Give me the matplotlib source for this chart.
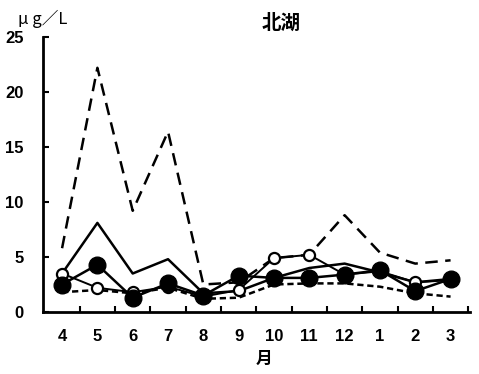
import matplotlib.pyplot as plt
import numpy as np

months = ["4", "5", "6", "7", "8", "9", "10", "11", "12", "1", "2", "3"]

# five series (ug/L)
long_dash = [5.8, 22.2, 9.2, 16.4, 2.5, 2.7, 4.9, 5.2, 8.8, 5.4, 4.4, 4.7]
solid_thin = [3.5, 8.1, 3.5, 4.8, 1.7, 1.9, 3.1, 4.0, 4.4, 3.6, 2.7, 3.0]
filled = [2.5, 4.3, 1.3, 2.6, 1.5, 3.3, 3.1, 3.1, 3.4, 3.8, 1.9, 3.0]
open_pts = [3.5, 2.2, 1.8, 2.3, 1.4, 2.0, 4.9, 5.2, 3.4, 3.7, 2.7, 2.9]
short_dash = [1.8, 2.0, 1.7, 2.2, 1.2, 1.3, 2.5, 2.6, 2.6, 2.3, 1.7, 1.4]

jp = ["Noto Sans CJK JP", "DejaVu Sans"]
num_font = "Liberation Sans"

fig = plt.figure(figsize=(4.79, 3.74), dpi=100)
ax = fig.add_axes([43 / 479, 1 - 312 / 374, 427 / 479, 275 / 374])

x = np.arange(len(months))
ax.plot(x, long_dash, color="black", lw=1.8, dashes=(5, 3))
ax.plot(x, short_dash, color="black", lw=1.8, dashes=(2.5, 1.5))
ax.plot(x, solid_thin, color="black", lw=1.8)
ax.plot(x, open_pts, color="black", lw=1.4, marker="o", ms=8,
        mfc="white", mec="black", mew=1.6)
ax.plot(x, filled, color="black", lw=1.8, marker="o", ms=12,
        mfc="black", mec="black")

ax.set_xlim(-0.54, 11.55)
ax.set_ylim(0, 25)
ax.set_yticks(range(0, 26, 5))
ax.set_xticks(x)
ax.set_xticklabels(months)
ax.set_xticks(np.arange(0.5, 12, 1), minor=True)

for s in ["top", "right"]:
    ax.spines[s].set_visible(False)
for s in ["left", "bottom"]:
    ax.spines[s].set_linewidth(2)

ax.tick_params(axis="x", which="major", length=0, pad=12)
ax.tick_params(axis="x", which="minor", direction="in", length=4, width=1.5)
ax.tick_params(axis="y", direction="in", length=4, width=1.5, pad=14)
for lab in ax.get_xticklabels() + ax.get_yticklabels():
    lab.set_fontfamily(num_font)
    lab.set_fontweight("bold")
    lab.set_fontsize(12)

fig.text(281 / 479, 1 - 23 / 374, "北湖", family=jp, fontsize=14,
         fontweight="bold", ha="center", va="center")
fig.text(18 / 479, 1 - 19 / 374, "μ g／L", family=jp, fontsize=12,
         ha="left", va="center")
fig.text(264 / 479, 1 - 359 / 374, "月", family=jp, fontsize=12,
         fontweight="bold", ha="center", va="center")

fig.savefig("out.png", dpi=100)
